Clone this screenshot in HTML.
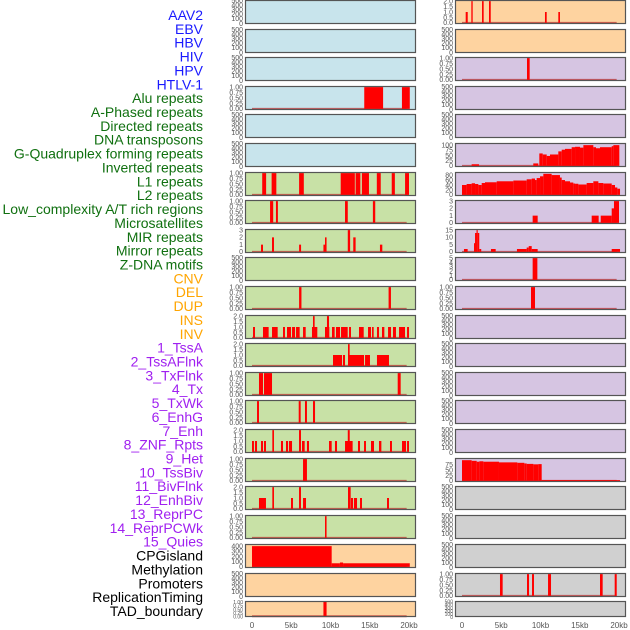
<!DOCTYPE html>
<html><head><meta charset="utf-8"><style>
html,body{margin:0;padding:0;background:#fff;}
svg{display:block;font-family:"Liberation Sans",sans-serif;}
</style></head><body>
<svg id="chart" width="630" height="630" viewBox="0 0 630 630" xmlns="http://www.w3.org/2000/svg"></svg>
<script>
// ---- data ----
const trackLabels = ["AAV2","EBV","HBV","HIV","HPV","HTLV-1","Alu repeats","A-Phased repeats","Directed repeats","DNA transposons","G-Quadruplex forming repeats","Inverted repeats","L1 repeats","L2 repeats","Low_complexity A/T rich regions","Microsatellites","MIR repeats","Mirror repeats","Z-DNA motifs","CNV","DEL","DUP","INS","INV","1_TssA","2_TssAFlnk","3_TxFlnk","4_Tx","5_TxWk","6_EnhG","7_Enh","8_ZNF_Rpts","9_Het","10_TssBiv","11_BivFlnk","12_EnhBiv","13_ReprPC","14_ReprPCWk","15_Quies","CPGisland","Methylation","Promoters","ReplicationTiming","TAD_boundary"];
const labelGroups = [6,13,5,15,5];
const groupColors = ["#1a1aff","#107010","#ffa500","#a020f0","#000000"];
const xTickValues = [0,5,10,15,20];
const xTickLabels = ["0","5kb","10kb","15kb","20kb"];

// segments: [startKb, endKb, value]
const L4 = [[14.3,16.7,1],[19.1,20.1,1]];
const L7 = [[1.3,1.8,1],[2.5,3.1,1],[6.0,6.6,1],[11.3,13.1,1],[13.2,13.8,1],[14.0,14.9,1],[15.9,16.4,1],[17.8,18.2,1],[19.5,20.0,1]];
const L8 = [[2.3,2.7,1],[3.05,3.3,1],[11.85,12.2,1],[15.4,15.7,1]];
const L9 = [[1.15,1.4,1],[2.55,2.8,2],[6.0,6.25,1],[9.1,9.3,1],[9.3,9.5,2],[12.2,12.5,3],[12.9,13.2,2],[16.3,16.6,1]];
const L11 = [[6.0,6.3,1],[17.4,17.7,1]];
const L12 = [[0.13,0.38,1],[1.4,2.12,1],[2.55,3.27,1],[3.95,4.2,1],[4.46,4.97,1],[5.1,5.48,1],[5.61,6.07,1],[6.5,6.84,1],[7.64,8.32,1],[7.77,7.98,2],[9.3,9.85,1],[9.55,9.81,2],[10.19,10.53,1],[10.7,11.21,1],[11.34,12.19,1],[12.36,12.61,1],[13.63,14.23,1],[14.78,15.16,1],[15.29,15.5,1],[15.92,16.18,1],[16.56,16.86,1],[17.33,17.71,1],[17.96,18.34,1],[18.73,19.49,1],[19.75,20.0,1]];
const L13 = [[10.32,11.47,1],[11.59,11.85,1],[12.36,14.27,1],[12.23,12.44,2],[14.4,15.03,1],[15.92,17.45,1]];
const L14 = [[0.89,1.4,1],[1.53,2.55,1],[18.56,18.94,1]];
const L15 = [[0.64,0.89,1],[5.95,6.2,1],[6.75,7.0,1],[7.77,8.03,1]];
const L16 = [[0.0,0.25,1],[0.38,0.64,1],[1.15,1.4,1],[1.53,1.78,1],[2.59,2.8,2],[3.69,3.95,1],[4.33,4.59,1],[4.71,5.1,1],[5.99,6.24,2],[6.37,6.71,1],[7.0,7.26,1],[9.81,10.15,1],[10.57,10.83,1],[11.85,12.82,1],[12.2,12.45,2],[13.5,13.76,1],[14.27,14.52,1],[15.16,15.54,1],[16.18,16.48,1],[17.58,17.83,1],[19.11,19.62,1],[19.75,20.0,1]];
const L17 = [[6.5,7.0,1]];
const L18 = [[0.89,1.78,1],[2.59,2.8,2],[4.97,5.22,1],[5.99,6.24,2],[6.5,6.88,1],[12.23,12.57,2],[12.61,12.87,1],[12.99,13.38,1],[13.76,14.01,1],[17.2,17.45,1]];
const L19 = [[9.3,9.5,1]];
const L20 = [[0,10.15,400],[10.15,11.2,70],[11.2,11.6,85],[11.6,20.1,70]];
const L22 = [[9.1,9.5,1]];
const R1 = [[0.47,0.73,1],[1.19,1.36,2],[2.55,2.76,2],[3.44,3.66,2],[10.57,10.79,1],[12.27,12.48,1]];
const R3 = [[8.28,8.62,1]];
const R6 = [[1.23,2.17,8],[9.08,9.72,12],[9.85,10.28,60],[10.28,10.79,55],[10.79,11.21,48],[11.21,12.27,55],[12.27,12.7,70],[12.7,13.12,78],[13.12,13.97,82],[13.97,14.4,90],[14.4,15.03,92],[15.03,15.46,88],[15.46,16.73,100],[16.73,17.07,90],[17.07,17.58,85],[17.58,19.07,90],[19.07,19.28,95],[19.28,20.04,100]];
const R7 = [[0,0.59,40],[0.59,1.23,44],[1.23,1.66,47],[1.66,2.08,44],[2.08,2.51,40],[2.51,2.93,48],[2.93,4.42,51],[4.42,6.54,55],[6.54,8.24,58],[8.24,8.88,63],[8.88,9.3,66],[9.3,9.51,60],[9.51,9.94,68],[9.94,10.36,75],[10.36,11.42,85],[11.42,12.48,80],[12.48,12.7,70],[12.7,13.12,60],[13.12,13.76,55],[13.76,14.18,50],[14.18,14.4,46],[14.4,14.82,45],[14.82,15.88,42],[15.88,16.73,48],[16.73,17.37,55],[17.37,18.0,48],[18.0,19.07,46],[19.07,19.49,40],[19.49,19.79,30],[19.79,20.13,25]];
const R8 = [[9.0,9.64,1],[16.52,17.41,1],[17.67,19.07,1],[19.07,19.36,2],[19.36,20.0,3]];
const R9 = [[0.25,0.72,2],[1.53,1.66,6],[1.66,1.85,13],[1.85,2.0,15],[2.0,2.2,13],[2.2,2.45,2],[3.69,4.29,2],[7.0,8.24,2],[8.24,8.5,3],[8.5,8.88,4],[8.88,9.64,2],[19.07,20.13,2]];
const R10 = [[9.0,9.6,5]];
const R11 = [[8.79,9.3,1]];
const R17 = [[0,1.23,95],[1.23,1.87,92],[1.87,2.21,88],[2.21,2.72,90],[2.72,4.71,88],[4.71,7.05,85],[7.05,7.94,83],[7.94,8.24,80],[8.24,9.09,78],[9.09,9.72,76],[9.72,10.15,77],[10.15,20.13,4]];
const R21 = [[4.84,5.18,1],[8.28,8.54,1],[8.92,9.17,1],[10.96,11.34,1],[17.58,17.92,1],[19.45,19.71,1]];

// ymax per panel (0 = empty)
const leftYmax  = [0,0,0,1,0,0,1,1,3,0,1,2,2,1,1,2,1,2,1,420,0,1];
const rightYmax = [2,0,1,0,0,105,88,3,15,5,1,0,0,0,0,0,100,0,0,0,1,0];
const leftBars  = [null,null,null,L4,null,null,L7,L8,L9,null,L11,L12,L13,L14,L15,L16,L17,L18,L19,L20,null,L22];
const rightBars = [R1,null,R3,null,null,R6,R7,R8,R9,R10,R11,null,null,null,null,null,R17,null,null,null,R21,null];
const leftBg  = ["b","b","b","b","b","b","g","g","g","g","g","g","g","g","g","g","g","g","g","o","o","o"];
const rightBg = ["o","o","p","p","p","p","p","p","p","p","p","p","p","p","p","p","p","y","y","y","y","y"];
const tickSets = {1:[0,0.25,0.5,0.75,1],2:[0,0.5,1,1.5,2],3:[0,1,2,3],5:[0,1,2,3,4,5],15:[0,5,10,15],88:[0,20,40,60,80],105:[0,25,50,75,100],100:[0,25,50,75],420:[0,100,200,300,400],0:[0,100,200,300,400,500]};
const tickDigits = {1:2,2:1,3:0,5:0,15:0,88:0,105:0,100:0,420:0,0:0};

// ---- drawing ----
const NS="http://www.w3.org/2000/svg";
const svg=document.getElementById('chart');
const bgColors={b:"#c8e4ec",g:"#c8e1a6",o:"#fed3a0",p:"#d6c5e2",y:"#d0d0d0"};
const rowTops=[0,29,57,86,114,143,172,200,229,257,286,315,343,372,400,429,458,486,515,544,573,601];
function mk(tag,attrs,parent){const e=document.createElementNS(NS,tag);for(const k in attrs)e.setAttribute(k,attrs[k]);(parent||svg).appendChild(e);return e;}

let li=0;
labelGroups.forEach((n,gi)=>{for(let j=0;j<n;j++){const t=mk('text',{x:203,y:20+li*13.86,'text-anchor':'end','font-size':'14',fill:groupColors[gi]});t.textContent=trackLabels[li];


li++;}});

function drawPanel(col,row,ymax,bars,bg){
  const px=col===0?245:455, x0=col===0?252:462, w=171;
  const top=rowTops[row], h=row===21?16:24;
  const xs=kb=>x0+kb*157/20;
  const hi=ymax===0?510:ymax*1.05, lo=ymax===0?-10:-ymax*0.05;
  const ys=v=>top+h-(v-lo)/(hi-lo)*h;
  const g=mk('g',{});
  
  
  mk('rect',{x:px,y:top,width:w,height:h,fill:bgColors[bg]},g);
  if(bars){
    mk('line',{x1:xs(0),x2:xs(19.7),y1:ys(0),y2:ys(0),stroke:"rgba(190,40,40,0.7)",'stroke-width':2},g);
    bars.forEach(b=>{const r=mk('rect',{x:xs(b[0]),y:ys(b[2]),width:Math.max(1.2,xs(b[1])-xs(b[0])),height:Math.max(0,ys(0)-ys(b[2])),fill:"#ff0000"},g);
      
      });
  }
  mk('rect',{x:px+0.5,y:top+0.5,width:w-1,height:h-1,fill:"none",stroke:"#555",'stroke-width':1.2},g);
  const ticks=tickSets[ymax], d=tickDigits[ymax];
  ticks.forEach(v=>{const t=mk('text',{x:px-2,y:ys(v)+2.3,'text-anchor':'end','font-size':h<20?'5':'7',fill:"#555"},g);t.textContent=v.toFixed(d);
    
    });
}
for(let r=0;r<22;r++){drawPanel(0,r,leftYmax[r],leftBars[r],leftBg[r]);drawPanel(1,r,rightYmax[r],rightBars[r],rightBg[r]);}

[252,462].forEach(x0=>{xTickValues.forEach((v,i)=>{const t=mk('text',{x:x0+v*157/20,y:628,'text-anchor':'middle','font-size':'8',fill:"#555"});t.textContent=xTickLabels[i];
  
  });});
</script>
</body></html>
